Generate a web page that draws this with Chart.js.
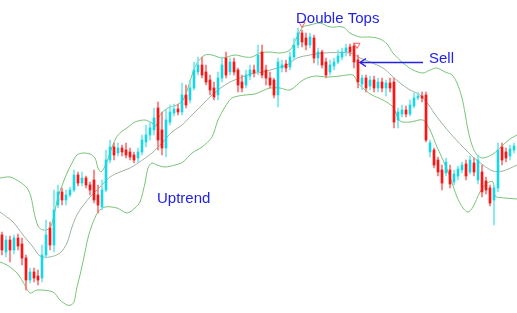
<!DOCTYPE html>
<html>
<head>
<meta charset="utf-8">
<script src="https://cdn.jsdelivr.net/npm/chart.js@4.4.1/dist/chart.umd.min.js"></script>
<style>
html,body{margin:0;padding:0;background:#ffffff;overflow:hidden;}
canvas{display:block;}
</style>
</head>
<body>
<canvas id="c" width="517" height="313"></canvas>
<script>
// Price levels (vertical scale runs downward: larger = lower on screen)
const openP = [235,252,240,250,238,244,258,280,272,276,
  278,255,228,245,205,192,200,195,190,175,
  183,178,185,180,195,207,190,160,147,153,
  148,150,152,155,158,152,142,135,130,108,
  130,148,122,113,109,112,95,100,88,72,
  65,72,80,88,95,78,58,72,62,70,
  82,85,76,70,72,52,70,78,80,95,
  68,64,67,57,45,33,38,45,38,58,
  52,62,72,66,62,57,52,47,46,60,
  84,78,86,80,88,82,88,83,82,120,
  114,110,114,106,98,96,95,152,150,160,
  170,173,170,182,176,170,164,172,163,180,
  172,181,188,200,188,147,152,156,150];
const highP = [232,236,236,235,234,238,255,268,268,270,
  245,220,222,190,185,188,190,187,170,172,
  172,176,182,170,185,180,150,140,143,143,
  145,143,148,152,148,135,125,122,108,102,
  112,110,105,104,104,83,85,80,62,57,
  57,65,75,82,72,57,52,58,58,68,
  75,70,65,65,45,45,65,72,78,58,
  60,60,52,38,28,30,33,33,35,48,
  50,58,60,58,50,48,44,44,43,55,
  75,75,76,76,78,78,80,78,78,108,
  105,106,100,93,92,92,92,140,148,157,
  165,158,165,170,166,162,160,156,158,155,
  165,177,185,185,143,143,148,145,143];
const lowP = [255,257,262,254,250,265,290,283,282,285,
  282,258,250,252,208,205,205,197,192,186,
  186,188,195,203,213,210,192,163,160,156,
  156,158,160,163,162,155,147,140,135,150,
  155,157,125,116,115,115,108,103,90,75,
  78,85,95,100,100,82,78,75,75,92,
  92,88,80,77,75,78,85,88,98,107,
  72,72,70,60,48,47,50,48,63,65,
  68,78,75,70,64,60,56,56,68,88,
  90,92,90,92,92,92,96,92,128,128,
  117,117,116,108,100,102,142,157,168,176,
  190,176,188,185,180,173,180,174,176,184,
  197,194,206,225,192,165,162,160,153];
const closeP = [250,240,250,238,246,258,280,272,278,280,
  255,235,245,210,192,200,195,190,175,183,
  178,185,190,200,205,190,160,147,155,148,
  152,155,157,160,152,140,135,128,118,140,
  148,120,112,109,112,95,105,88,70,65,
  75,82,90,97,78,65,75,62,72,85,
  88,75,70,73,55,75,78,85,95,62,
  65,68,57,45,33,42,45,37,58,52,
  65,75,65,62,56,52,48,52,62,82,
  78,88,80,88,82,88,83,88,122,112,
  110,114,105,98,96,98,140,143,165,172,
  183,162,184,174,169,165,176,160,172,160,
  192,190,203,188,150,160,158,149,146];

// Bollinger bands: positions (in candle index) and levels
const upperIdx = [-0.5,2,4.5,6.25,7.25,8,9,10.25,12,13,14,15.25,16.25,17.5,18.75,20.25,22,23.25,24,24.75,26,27.25,28.5,29.75,31.25,33.25,35.75,37.5,38.5,39.5,41.5,43.75,45.25,46.5,47.5,48.75,50.75,52.5,55,58.25,60.75,62.5,64.5,67,69.5,72,73.75,75.25,77,79.5,82,85.25,87,89.5,92,94.5,96.25,97.75,100.25,102.75,105.25,107,108.75,110.75,112.5,113.75,115,115.75,116.5,117.5,118.75,120.25,122.75,125.25,127,128.75];
const upperVal = [178,177,182,188,197,212,226,230,228,215,197,183,173,163,155,153,154,158,168,172,164,150,138,132,128,122,120,123,126,115,108,105,100,88,75,63,55,55,58,55,57,57,53,52,53,50,37,27,25,23,27,27,33,37,37,39,44,53,63,70,73,70,68,72,75,83,98,113,130,145,155,158,154,145,139,135];
const middleIdx = [-0.5,2.75,5.25,7.75,9.5,12,14.5,16.25,17.5,19,22,24.5,27,29.5,32,34,37.5,40,42.5,45,47.5,50,52.5,55,57,59.5,62,65.25,68.75,71.25,73.75,77,80.25,87,89.5,92,95.25,97.5,99.5,102,104.5,106.5,108.75,112,115.25,117.75,120.25,122.75,125.25,128.75];
const middleVal = [212,222,235,247,256,257,253,243,227,213,197,187,177,172,168,163,153,143,132,125,115,105,95,87,82,78,74,72,68,65,58,55,53,53,58,62,68,76,83,90,95,104,117,133,147,157,165,171,171,165];
const lowerIdx = [-0.5,1.25,3.75,5.25,7,8.75,12.75,14.5,16.25,17.25,18,18.75,19.5,20.5,21.5,22.5,24,25.75,28.75,31.25,33.25,34.5,35.75,36.5,37.5,38.75,40.75,43.25,45.25,47.5,50,52.5,54,55.75,57.5,60.75,63.25,65,67,69.5,72,75.25,77,78.75,81.25,84.5,87.75,89,90.75,92.5,95.25,97.75,99.5,102,105.25,107,108.75,110.25,112,113.75,115.25,116.5,117.75,119.5,121.25,122.75,123.25,125.75,128.75];
const lowerVal = [262,265,273,282,293,290,292,300,305,305,302,287,275,257,238,225,212,207,208,213,208,202,183,168,163,165,167,165,162,153,147,137,120,107,98,95,94,91,88,88,90,80,77,76,77,76,75,83,90,95,100,107,121,122,120,130,147,160,177,197,208,212,207,192,183,182,196,198,199];

// Top markers (candle index, level)
const markerIdx = [75, 88.75];
const markerVal = [24, 45];

// Annotation texts
const labelTexts = ['Double Tops', 'Sell', 'Uptrend'];

const RED = '#ff1414', RED_W = '#ff7070';
const CYAN = '#19d6e6', CYAN_W = '#70e8f2';
const BLUE = '#2222e6';

const idxs = openP.map((_, i) => i);
const isDown = i => closeP[i] > openP[i];
const bodies = idxs.map(i => ({x: i, y: [openP[i], closeP[i]]}));
const wicks = idxs.map(i => ({x: i, y: [highP[i], lowP[i]]}));
const zip = (a, b) => a.map((v, i) => ({x: v, y: b[i]}));

const notes = {
  id: 'notes',
  afterDatasetsDraw(chart) {
    const {ctx, scales: {x, y}} = chart;
    ctx.save();
    ctx.fillStyle = BLUE;
    ctx.font = '15px "Liberation Sans", Arial, sans-serif';
    ctx.textBaseline = 'alphabetic';
    ctx.textAlign = 'left';
    ctx.fillText(labelTexts[0], x.getPixelForValue(73.5), y.getPixelForValue(22.5));
    ctx.fillText(labelTexts[1], x.getPixelForValue(106.75), y.getPixelForValue(63));
    ctx.fillText(labelTexts[2], x.getPixelForValue(38.75), y.getPixelForValue(203));
    // Sell arrow
    const x0 = x.getPixelForValue(105.25), x1 = x.getPixelForValue(89.5), yy = Math.round(y.getPixelForValue(62)) + 0.5;
    ctx.strokeStyle = BLUE;
    ctx.lineWidth = 1.5;
    ctx.beginPath(); ctx.moveTo(x0, yy); ctx.lineTo(x1 + 1, yy); ctx.stroke();
    ctx.beginPath(); ctx.moveTo(x1 + 6, yy - 4); ctx.lineTo(x1, yy); ctx.lineTo(x1 + 6, yy + 4); ctx.stroke();
    ctx.restore();
  }
};

new Chart(document.getElementById('c'), {
  data: {
    datasets: [
      {type: 'bar', data: bodies, grouped: false, barThickness: 2, minBarLength: 1, order: 1,
       backgroundColor: ctx => isDown(ctx.dataIndex) ? RED : CYAN, borderWidth: 0},
      {type: 'bar', data: wicks, grouped: false, barThickness: 1, order: 2,
       backgroundColor: ctx => isDown(ctx.dataIndex) ? RED_W : CYAN_W, borderWidth: 0},
      {type: 'line', data: zip(upperIdx, upperVal), borderColor: '#78c478', borderWidth: 1, pointRadius: 0, tension: 0.3, order: 3},
      {type: 'line', data: zip(middleIdx, middleVal), borderColor: '#9cb49c', borderWidth: 1, pointRadius: 0, tension: 0.3, order: 3},
      {type: 'line', data: zip(lowerIdx, lowerVal), borderColor: '#78c478', borderWidth: 1, pointRadius: 0, tension: 0.3, order: 3},
      {type: 'scatter', data: zip(markerIdx, markerVal), pointStyle: 'triangle', rotation: 180, pointRadius: 3.5,
       borderColor: '#ff5a5a', backgroundColor: '#ffffff', borderWidth: 1, order: 0}
    ]
  },
  options: {
    responsive: false,
    animation: false,
    events: [],
    layout: {padding: 0, autoPadding: false},
    plugins: {legend: {display: false}, tooltip: {enabled: false}},
    scales: {
      x: {type: 'linear', min: -0.5, max: 128.75, offset: false, display: false},
      y: {type: 'linear', min: 0, max: 313, reverse: true, offset: false, display: false}
    }
  },
  plugins: [notes]
});
</script>
</body>
</html>
